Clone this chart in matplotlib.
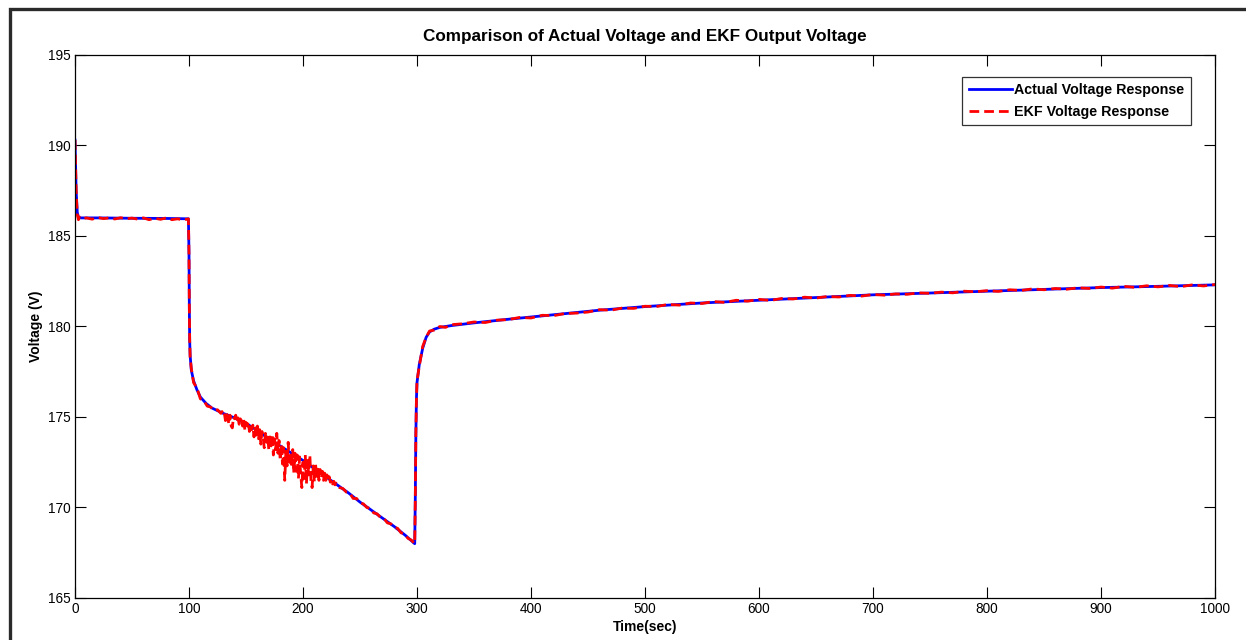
import matplotlib
matplotlib.use("Agg")
import matplotlib.pyplot as plt
from matplotlib.patches import Rectangle

plt.rcParams['font.family'] = ['Liberation Sans', 'DejaVu Sans']

# Measured terminal voltage of the pack (time in s, voltage in V)
actual_time = [0, 1, 2, 3, 5, 20, 50, 80, 99.5,
               100, 100.3, 100.6, 101, 102, 104, 107, 110, 115, 120, 130,
               140, 150, 160, 170, 180, 190, 200, 210, 220, 230, 240, 250,
               260, 270, 280, 290, 298,
               298.5, 299, 299.5, 300, 302, 305, 308, 311, 315, 320, 330,
               350, 380, 420, 460, 500, 550, 600, 650, 700, 750, 800, 850,
               900, 950, 1000]
actual_volt = [190.3, 187.5, 186.3, 186.05, 186.0, 186.0, 185.98, 185.97, 185.95,
               184.0, 181.0, 179.2, 178.4, 177.6, 177.0, 176.5, 176.1, 175.75, 175.5, 175.2,
               174.95, 174.65, 174.25, 173.8, 173.4, 173.0, 172.6, 172.15, 171.7, 171.25, 170.8, 170.3,
               169.85, 169.4, 168.95, 168.45, 168.0,
               170.5, 174.0, 176.0, 176.9, 177.9, 178.8, 179.4, 179.7, 179.85, 179.95, 180.05,
               180.2, 180.4, 180.65, 180.9, 181.1, 181.3, 181.45, 181.6, 181.75, 181.85, 181.95, 182.05,
               182.15, 182.22, 182.3]

# Extended Kalman filter estimate of the terminal voltage
ekf_time = [0, 0.5, 1, 1.5, 2, 3, 4, 6, 10, 15, 20, 25, 30, 35, 40, 45, 50, 55, 60,
            65, 70, 75, 80, 85, 90, 95, 99.5,
            100, 100.3, 100.6, 101, 102, 104, 107, 110, 113, 116, 119, 122, 125,
            128, 129, 130, 131, 132, 133, 134, 135, 136, 137, 138, 139,
            140, 141, 142, 143, 144, 145, 146, 147, 148, 149,
            150, 151, 152, 153, 154, 155, 156, 157, 158, 159,
            160, 161, 162, 163, 164, 165, 166, 167, 168, 169,
            170, 171, 172, 173, 174, 175, 176, 177, 178, 179,
            180, 181, 182, 183, 184, 185, 186, 187, 188, 189,
            190, 191, 192, 193, 194, 195, 196, 197, 198, 199,
            200, 201, 202, 203, 204, 205, 206, 207, 208, 209,
            210, 211, 212, 213, 214, 215, 216, 217, 218, 219,
            220, 221, 222, 223, 224, 225, 226, 227, 228, 229, 230,
            232, 235, 238, 241, 244, 247, 250, 253, 256, 259, 262, 265,
            268, 271, 274, 277, 280, 283, 286, 289, 292, 295, 298,
            298.5, 299, 299.5, 300, 302, 305, 308, 311, 315, 320, 325, 330,
            340, 350, 360, 370, 380, 390, 400, 410, 420, 430, 440, 450,
            460, 470, 480, 490, 500, 510, 520, 530, 540, 550, 560, 570,
            580, 590, 600, 610, 620, 630, 640, 650, 660, 670, 680, 690,
            700, 710, 720, 730, 740, 750, 760, 770, 780, 790, 800, 810,
            820, 830, 840, 850, 860, 870, 880, 890, 900, 910, 920, 930,
            940, 950, 960, 970, 980, 990, 1000]
ekf_volt = [190.3, 189.0, 187.6, 186.8, 186.2, 185.9, 186.05, 185.95, 186.0, 185.93,
            186.02, 185.96, 186.0, 185.94, 186.01, 185.95, 185.99, 185.93, 186.0,
            185.9, 185.98, 185.92, 186.0, 185.9, 185.95, 185.88, 185.95,
            184.0, 181.0, 179.3, 178.3, 177.7, 176.9, 176.6, 176.0, 175.9, 175.6, 175.55, 175.35, 175.4,
            175.2, 175.3, 175.1, 175.2, 174.8, 175.2, 175.0, 174.6, 175.1, 174.5, 174.4, 175.0,
            174.9, 175.1, 174.7, 174.95, 174.6, 174.9, 174.8, 174.5, 174.85, 174.3,
            174.7, 174.5, 174.75, 174.2, 174.6, 174.3, 174.55, 173.9, 174.4, 174.0,
            174.5, 173.8, 174.3, 173.5, 174.2, 173.9, 173.3, 174.1, 173.6, 174.0,
            173.2, 173.9, 173.4, 174.0, 172.9, 173.8, 173.2, 174.1, 173.0, 173.7,
            172.6, 173.5, 172.4, 173.3, 171.5, 173.1, 172.3, 173.6, 172.5, 172.9,
            172.2, 173.2, 171.9, 173.0, 172.0, 172.9, 171.6, 172.8, 171.8, 171.1,
            172.5, 171.6, 172.9, 171.3, 172.6, 171.8, 172.9, 171.5, 171.1, 172.3,
            171.4, 172.4, 171.6, 172.2, 171.5, 172.1, 171.6, 172.0, 171.5, 171.9,
            171.5, 171.8, 171.45, 171.7, 171.4, 171.55, 171.3, 171.45, 171.25, 171.35, 171.2,
            171.1, 171.05, 170.85, 170.8, 170.5, 170.5, 170.25, 170.2, 170.0, 169.95, 169.7, 169.65,
            169.45, 169.4, 169.15, 169.1, 168.9, 168.85, 168.6, 168.55, 168.3, 168.2, 168.0,
            170.4, 174.1, 175.9, 177.0, 177.8, 178.9, 179.4, 179.75, 179.8, 180.0, 179.95, 180.1,
            180.15, 180.25, 180.22, 180.35, 180.38, 180.5, 180.47, 180.62, 180.6, 180.72, 180.74, 180.8,
            180.93, 180.9, 181.02, 181.0, 181.12, 181.1, 181.22, 181.18, 181.3, 181.27, 181.38, 181.33,
            181.45, 181.4, 181.5, 181.44, 181.55, 181.52, 181.62, 181.57, 181.66, 181.63, 181.72, 181.68,
            181.77, 181.73, 181.8, 181.78, 181.86, 181.83, 181.9, 181.86, 181.95, 181.92, 181.98, 181.94,
            182.03, 181.99, 182.08, 182.03, 182.1, 182.06, 182.14, 182.1, 182.18, 182.12, 182.22, 182.16,
            182.25, 182.19, 182.27, 182.2, 182.3, 182.24, 182.32]

x_ticks = [0, 100, 200, 300, 400, 500, 600, 700, 800, 900, 1000]
y_ticks = [165, 170, 175, 180, 185, 190, 195]

fig = plt.figure(figsize=(12.46, 6.40), dpi=100)
fig.patch.set_facecolor('white')

# outer frame of the figure window
fig.patches.append(Rectangle((10 / 1246, -0.05), 1.1, 1.05 - 9 / 640,
                             transform=fig.transFigure, fill=False,
                             edgecolor='#2a2a2a', linewidth=2.4))

ax = fig.add_axes([75 / 1246, 1 - 598 / 640, (1215 - 75) / 1246, (598 - 55) / 640])

ax.plot(actual_time, actual_volt, color='#0000ff', linewidth=2.0,
        label='Actual Voltage Response')
ax.plot(ekf_time, ekf_volt, color='#ff0000', linewidth=2.0,
        linestyle=(0, (3.5, 1.8)), label='EKF Voltage Response')

ax.set_xlim(0, 1000)
ax.set_ylim(165, 195)
ax.set_xticks(x_ticks)
ax.set_yticks(y_ticks)
ax.tick_params(direction='in', length=8, width=0.8, top=True, right=True,
               labelsize=9.8, pad=3, colors='black')
for s in ax.spines.values():
    s.set_linewidth(0.9)
    s.set_color('black')

ax.set_title('Comparison of Actual Voltage and EKF Output Voltage',
             fontsize=12.3, fontweight='bold', pad=10)
ax.set_xlabel('Time(sec)', fontsize=10, fontweight='bold', labelpad=3)
ax.set_ylabel('Voltage (V)', fontsize=10, fontweight='bold', labelpad=4)

leg = ax.legend(loc='upper right', bbox_to_anchor=(1191 / 1246, 1 - 77 / 640),
                bbox_transform=fig.transFigure,
                prop={'weight': 'bold', 'size': 10.3}, frameon=True,
                fancybox=False, handlelength=3.0, handletextpad=0.2,
                borderpad=0.45, labelspacing=0.5, borderaxespad=0)
leg.get_frame().set_edgecolor('black')
leg.get_frame().set_linewidth(0.9)

fig.savefig('out.png', dpi=100, facecolor='white')
